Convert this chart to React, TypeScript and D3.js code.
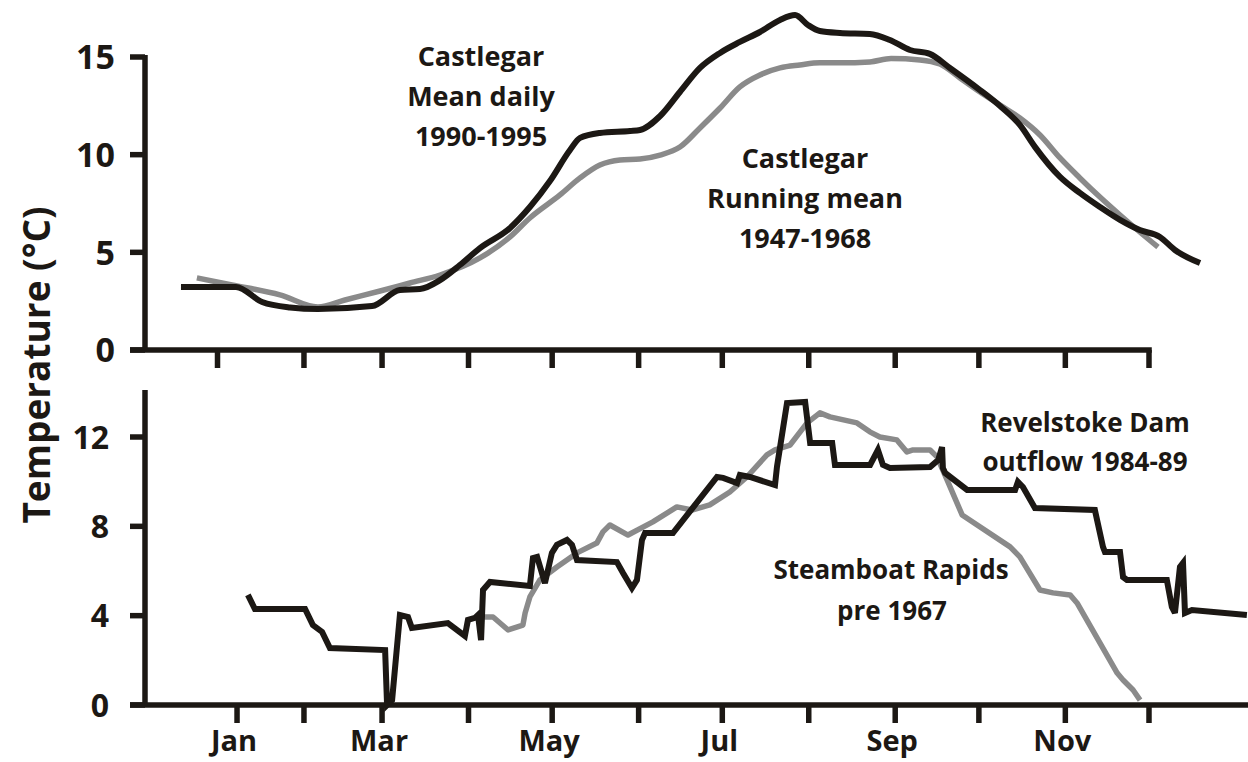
import React from "react";
import * as d3 from "d3";

// ---- Data (x = day of year, 0 = Jan 1; y = temperature °C) ----
const castlegarDaily: [number, number][] = [
  [-13.1, 3.23], [6.6, 3.23], [16.0, 2.46], [26, 2.18], [36.0, 2.1], [55.4, 2.25],
  [65.4, 3.07], [72.6, 3.12], [79.8, 3.58], [86.9, 4.35], [94.1, 5.22], [104.9, 6.25],
  [112.0, 7.32], [119.2, 8.65], [126.4, 10.24], [130.0, 10.86], [137.1, 11.11],
  [147.9, 11.21], [151.5, 11.26], [158.7, 11.98], [165.8, 13.21], [173.0, 14.44],
  [180.2, 15.21], [187.3, 15.77], [194.5, 16.28], [201.7, 16.9], [207.1, 17.15],
  [211.7, 16.64], [216.0, 16.33], [223.2, 16.23], [233.9, 16.18], [241.1, 15.87],
  [248.3, 15.36], [255.4, 15.16], [262.6, 14.44], [273.4, 13.31], [280.6, 12.49],
  [287.7, 11.52], [293.1, 10.4], [302.1, 8.86], [309.2, 8.04], [316.4, 7.32],
  [323.6, 6.66], [330.7, 6.14], [337.9, 5.79], [343.3, 5.12], [352.3, 4.45],
];

const castlegarRunning: [number, number][] = [
  [-7.4, 3.69], [5.2, 3.33], [22.4, 2.82], [36.0, 2.2], [45.7, 2.56], [58.3, 3.02],
  [69.0, 3.43], [79.8, 3.84], [94.1, 4.71], [104.9, 5.79], [112.0, 6.76], [122.8, 7.94],
  [130.0, 8.81], [137.1, 9.47], [144.3, 9.73], [151.5, 9.78], [158.7, 9.98],
  [165.8, 10.39], [173.0, 11.37], [180.2, 12.39], [187.3, 13.47], [194.5, 14.08],
  [201.7, 14.44], [208.8, 14.59], [216.0, 14.7], [223.2, 14.7], [233.9, 14.75],
  [241.5, 14.92], [251.9, 14.85], [259.0, 14.64], [266.2, 13.93], [273.4, 13.21],
  [280.6, 12.54], [287.7, 11.88], [294.9, 11.01], [302.1, 9.83], [309.2, 8.81],
  [316.4, 7.83], [323.6, 6.91], [330.7, 6.04], [337.2, 5.27],
];

const revelstokeOutflow: [number, number][] = [
  [10.9, 4.93], [13.4, 4.3], [31.4, 4.3], [34.2, 3.58], [37.5, 3.27], [40.3, 2.55],
  [60.1, 2.46], [60.8, 0], [62.6, 0.22], [65.4, 4.03], [68.3, 3.94], [69.7, 3.45],
  [82.6, 3.67], [88.7, 3.09], [89.8, 3.81], [92.3, 3.9], [93.4, 4.03], [94.5, 2.91],
  [95.2, 5.15], [97.7, 5.51], [112.0, 5.33], [113.1, 6.58], [114.6, 6.63], [117.4, 5.46],
  [119.9, 6.81], [121.7, 7.17], [125.3, 7.39], [127.1, 7.17], [128.9, 6.49],
  [143.2, 6.4], [145.4, 5.91], [148.6, 5.24], [150.4, 5.6], [152.2, 7.39], [153.3, 7.7],
  [163.3, 7.7], [179.1, 10.21], [181.3, 10.17], [186.3, 9.94], [187.3, 10.3],
  [190.9, 10.21], [199.9, 9.85], [200.6, 10.66], [204.2, 13.52], [210.7, 13.57],
  [212.5, 11.73], [220.4, 11.73], [221.4, 10.75], [234.0, 10.75], [236.8, 11.42],
  [238.6, 10.75], [241.1, 10.61], [255.5, 10.66], [258.4, 10.97], [259.8, 11.55],
  [260.1, 10.61], [260.9, 10.39], [268.8, 9.63], [286.0, 9.63], [287.0, 9.99],
  [288.8, 9.76], [293.1, 8.82], [314.6, 8.73], [317.5, 7.08], [318.2, 6.85],
  [323.6, 6.85], [324.7, 5.73], [326.1, 5.6], [340.4, 5.6], [342.2, 4.39], [343.3, 4.12],
  [345.1, 6.18], [346.2, 6.36], [346.9, 4.12], [349.4, 4.25], [369.1, 4.03],
];

const steamboatRapids: [number, number][] = [
  [95.2, 3.94], [98.8, 3.94], [104.2, 3.36], [109.5, 3.58], [110.3, 4.12], [112.0, 4.84],
  [115.6, 5.6], [121.7, 6.18], [128.9, 6.81], [136.0, 7.25], [138.2, 7.75], [140.7, 8.06],
  [147.2, 7.61], [156.1, 8.2], [164.7, 8.87], [170.1, 8.73], [176.5, 8.96], [183.7, 9.54],
  [189.8, 10.21], [197.0, 11.2], [199.9, 11.42], [205.3, 11.64], [211.4, 12.63],
  [216.0, 13.08], [219.6, 12.9], [229.3, 12.63], [233.9, 12.23], [237.5, 12.0],
  [243.6, 11.87], [247.2, 11.33], [249.4, 11.42], [255.5, 11.42], [258.0, 11.11],
  [261.6, 10.08], [267.0, 8.51], [284.2, 7.08], [287.7, 6.63], [294.9, 5.15],
  [299.6, 5.02], [305.7, 4.93], [308.2, 4.57], [322.6, 1.43], [324.7, 1.12],
  [328.3, 0.67], [330.8, 0.22],
];

const topTickDays = [0, 31, 59, 90, 120, 151, 181, 212, 243, 273, 304, 334];
const bottomTickDays = [7, 31, 59, 90, 120, 151, 181, 212, 243, 273, 304, 334];
const monthLabels = ["Jan", "Mar", "May", "Jul", "Sep", "Nov"];
const monthLabelTickIndex = [0, 2, 4, 6, 8, 10];
const topYTicks = [0, 5, 10, 15];
const bottomYTicks = [0, 4, 8, 12];

const INK = "#1c1814";
const GREY = "#8a8a8a";
const FONT = "'Comic Sans MS', 'Open Sans', sans-serif";

export default function App() {
  const x = d3.scaleLinear().domain([-26, 369.5]).range([145, 1248]);
  const yTop = d3.scaleLinear().domain([0, 15]).range([350, 57]);
  const yBot = d3.scaleLinear().domain([0, 12]).range([705, 437]);

  const lineTop = d3
    .line<[number, number]>()
    .x((d) => x(d[0]))
    .y((d) => yTop(d[1]))
    .curve(d3.curveMonotoneX);
  const lineBot = d3
    .line<[number, number]>()
    .x((d) => x(d[0]))
    .y((d) => yBot(d[1]))
    .curve(d3.curveLinear);

  const axisW = 5.5;
  const x0 = x(-26);

  return (
    <svg
      width={1248}
      height={762}
      style={{ position: "absolute", left: 0, top: 0, background: "#fff" }}
      fontFamily={FONT}
      fontWeight={700}
    >
      <rect width={1248} height={762} fill="#fff" />

      {/* ---------- Top panel ---------- */}
      <g stroke={INK} strokeWidth={axisW} fill="none">
        <line x1={x0} x2={x0} y1={yTop(15) - 2} y2={yTop(0)} />
        <line x1={x0 - 15} x2={x(335)} y1={yTop(0)} y2={yTop(0)} />
        {topYTicks.map((t) => (
          <line key={t} x1={x0 - 15} x2={x0} y1={yTop(t)} y2={yTop(t)} />
        ))}
        {topTickDays.map((d) => (
          <line key={d} x1={x(d)} x2={x(d)} y1={yTop(0)} y2={yTop(0) + 18} />
        ))}
      </g>
      {topYTicks.map((t) => (
        <text
          key={t}
          x={115}
          y={yTop(t)}
          dy="0.36em"
          textAnchor="end"
          fontSize={34}
          fill={INK}
        >
          {t}
        </text>
      ))}

      <path d={lineTop(castlegarRunning) || ""} fill="none" stroke={GREY} strokeWidth={5.5} strokeLinejoin="round" />
      <path d={lineTop(castlegarDaily) || ""} fill="none" stroke={INK} strokeWidth={6} strokeLinejoin="round" />

      <g fontSize={27} fill={INK} textAnchor="middle">
        <text x={481} y={66}>Castlegar</text>
        <text x={481} y={106}>Mean daily</text>
        <text x={481} y={146}>1990-1995</text>
        <text x={805} y={168}>Castlegar</text>
        <text x={805} y={208}>Running mean</text>
        <text x={805} y={248}>1947-1968</text>
      </g>

      {/* ---------- Bottom panel ---------- */}
      <g stroke={INK} strokeWidth={axisW} fill="none">
        <line x1={x0} x2={x0} y1={yBot(14.1)} y2={yBot(0)} />
        <line x1={x0 - 15} x2={x(369.5)} y1={yBot(0)} y2={yBot(0)} />
        {bottomYTicks.map((t) => (
          <line key={t} x1={x0 - 15} x2={x0} y1={yBot(t)} y2={yBot(t)} />
        ))}
        {bottomTickDays.map((d) => (
          <line key={d} x1={x(d)} x2={x(d)} y1={yBot(0)} y2={yBot(0) + 18} />
        ))}
      </g>
      {bottomYTicks.map((t) => (
        <text
          key={t}
          x={109}
          y={yBot(t)}
          dy="0.36em"
          textAnchor="end"
          fontSize={32}
          fill={INK}
        >
          {t}
        </text>
      ))}
      {monthLabels.map((m, i) => (
        <text
          key={m}
          x={x(bottomTickDays[monthLabelTickIndex[i]]) - 3}
          y={751}
          textAnchor="middle"
          fontSize={29}
          fill={INK}
        >
          {m}
        </text>
      ))}

      <path d={lineBot(steamboatRapids) || ""} fill="none" stroke={GREY} strokeWidth={5.5} strokeLinejoin="round" />
      <path d={lineBot(revelstokeOutflow) || ""} fill="none" stroke={INK} strokeWidth={6} strokeLinejoin="miter" strokeMiterlimit={3} />

      <g fontSize={26} fill={INK} textAnchor="middle">
        <text x={1085} y={432}>Revelstoke Dam</text>
        <text x={1085} y={471}>outflow 1984-89</text>
        <text x={891} y={579}>Steamboat Rapids</text>
        <text x={892} y={620}>pre 1967</text>
      </g>

      {/* ---------- Shared y label ---------- */}
      <text
        transform={`translate(50, 365) rotate(-90)`}
        textAnchor="middle"
        fontSize={37}
        fill={INK}
      >
        Temperature (°C)
      </text>
    </svg>
  );
}
